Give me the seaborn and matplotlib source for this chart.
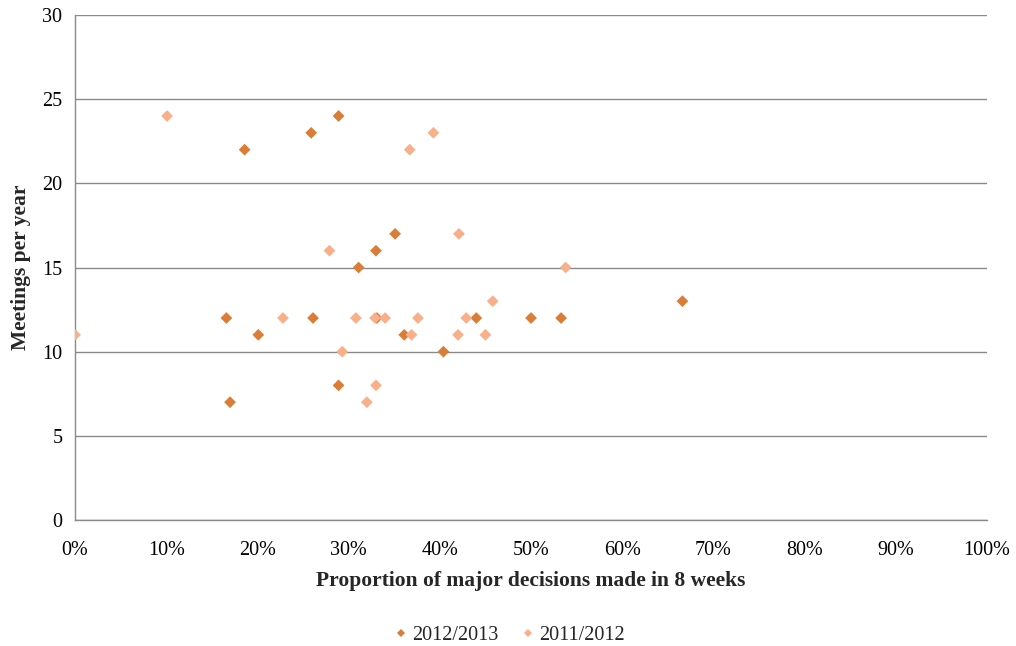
import matplotlib
matplotlib.use("Agg")
import matplotlib.pyplot as plt
from matplotlib.ticker import FuncFormatter
import seaborn as sns
import pandas as pd

# 2012/2013 season: share of major decisions made in 8 weeks (%) and meetings per year
share_1213 = [18.6, 25.9, 28.9, 16.6, 17.0, 20.1, 26.1, 28.9, 31.1, 33.0,
              35.1, 33.1, 36.1, 40.4, 44.0, 50.0, 53.3, 66.6]
meet_1213 = [22, 23, 24, 12, 7, 11, 12, 8, 15, 16,
             17, 12, 11, 10, 12, 12, 12, 13]

# 2011/2012 season
share_1112 = [0.0, 10.1, 22.8, 27.9, 29.3, 30.8, 32.0, 33.0, 32.9, 34.0,
              36.7, 36.9, 37.6, 39.3, 42.1, 42.0, 42.9, 45.0, 45.8, 53.8]
meet_1112 = [11, 24, 12, 16, 10, 12, 7, 8, 12, 12,
             22, 11, 12, 23, 17, 11, 12, 11, 13, 15]

series_names = ["2012/2013", "2011/2012"]
series_colors = ["#DA7D37", "#F7B08A"]

x_ticks = list(range(0, 101, 10))
y_ticks = list(range(0, 31, 5))

df = pd.concat([
    pd.DataFrame({"share": share_1213, "meetings": meet_1213, "season": series_names[0]}),
    pd.DataFrame({"share": share_1112, "meetings": meet_1112, "season": series_names[1]}),
], ignore_index=True)

sns.set_theme(style="white")
plt.rcParams["font.family"] = ["Liberation Serif", "DejaVu Serif"]

fig = plt.figure(figsize=(10.16, 6.46), dpi=100)
ax = fig.add_axes([0.0738, 0.195, 0.8977, 0.7818])

sns.scatterplot(data=df, x="share", y="meetings", hue="season",
                hue_order=series_names, palette=series_colors,
                marker="D", s=36, linewidth=0, ax=ax, legend=False, zorder=3)

ax.set_xlim(0, 100)
ax.set_ylim(0, 30)
ax.set_xticks(x_ticks)
ax.set_yticks(y_ticks)
ax.xaxis.set_major_formatter(FuncFormatter(lambda v, p: f"{v:.0f}%"))
ax.tick_params(axis="both", labelsize=14.5, colors="#000000", length=5,
               width=1, direction="out")
ax.tick_params(axis="x", color="#8a8a8a", pad=10)
ax.tick_params(axis="y", color="#8a8a8a", pad=4)
ax.yaxis.grid(True, color="#8a8a8a", linewidth=1)
ax.set_axisbelow(True)

for side in ["top", "right"]:
    ax.spines[side].set_visible(False)
for side in ["left", "bottom"]:
    ax.spines[side].set_color("#8a8a8a")
    ax.spines[side].set_linewidth(1)

ax.set_xlabel("Proportion of major decisions made in 8 weeks",
              fontsize=15.5, fontweight="bold", labelpad=8)
ax.set_ylabel("Meetings per year", fontsize=15.5, fontweight="bold", labelpad=8)

handles = [plt.Line2D([], [], marker="D", linestyle="none", markersize=4,
                      markerfacecolor=c, markeredgewidth=0)
           for c in series_colors]
fig.legend(handles, series_names, loc="center", ncol=2,
           bbox_to_anchor=(0.5, 0.016), frameon=False, fontsize=14.5,
           handletextpad=0.05, columnspacing=1.0, handlelength=1.0,
           borderpad=0)

fig.savefig("out.png", dpi=100)
